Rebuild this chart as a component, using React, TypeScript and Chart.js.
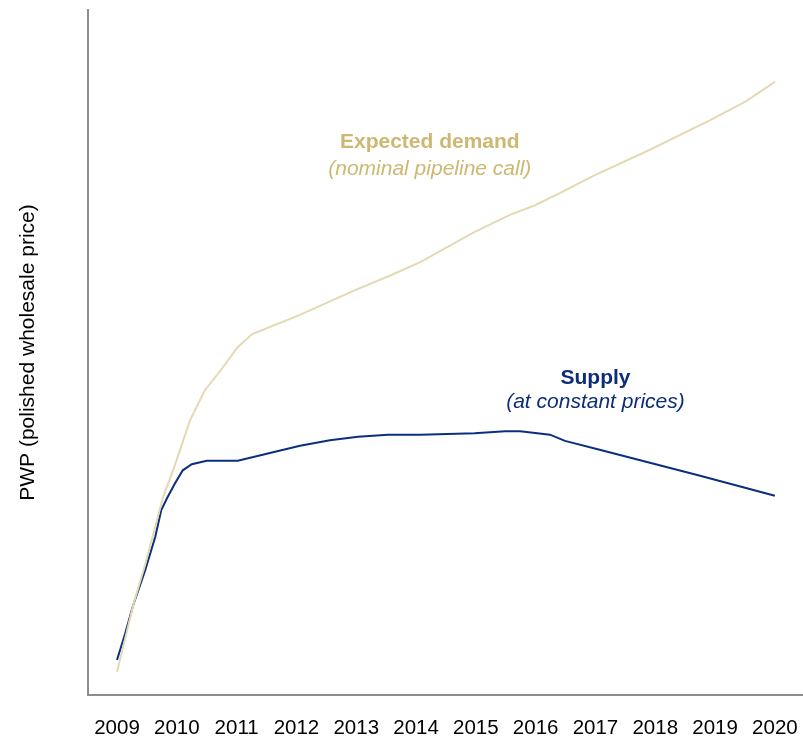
import React, { useEffect, useRef } from "react";
import { Chart, registerables } from "chart.js";

Chart.register(...registerables);

const years = [2009, 2010, 2011, 2012, 2013, 2014, 2015, 2016, 2017, 2018, 2019, 2020];

const demandX = [2009.0, 2009.13, 2009.27, 2009.47, 2009.77, 2009.97, 2010.22, 2010.47, 2010.76, 2011.01, 2011.26, 2012.06, 2012.98, 2013.56, 2014.07, 2014.98, 2015.57, 2015.99, 2016.41, 2016.99, 2017.91, 2018.91, 2019.5, 2020.0];
const demandY = [3.4, 8.0, 13.1, 19.0, 28.9, 33.6, 40.1, 44.5, 47.7, 50.7, 52.7, 55.5, 59.1, 61.2, 63.2, 67.6, 70.1, 71.5, 73.3, 75.9, 79.6, 83.9, 86.6, 89.5];

const supplyX = [2009.0, 2009.13, 2009.27, 2009.47, 2009.64, 2009.74, 2009.84, 2009.97, 2010.1, 2010.25, 2010.5, 2011.02, 2012.06, 2012.56, 2013.03, 2013.53, 2014.07, 2014.98, 2015.49, 2015.74, 2016.24, 2016.49, 2017.07, 2017.91, 2018.75, 2020.0];
const supplyY = [5.1, 8.8, 13.1, 18.2, 23.1, 27.0, 28.8, 30.9, 32.8, 33.7, 34.2, 34.2, 36.4, 37.2, 37.7, 38.0, 38.0, 38.2, 38.5, 38.5, 38.0, 37.1, 35.8, 33.9, 32.0, 29.1];

const yTitle = "PWP (polished wholesale price)";
const demandLabel = ["Expected demand", "(nominal pipeline call)"];
const supplyLabel = ["Supply", "(at constant prices)"];

const DEMAND_LINE = "#E4D9B2";
const DEMAND_TEXT = "#CDB871";
const SUPPLY_LINE = "#0B2F7E";
const SUPPLY_TEXT = "#0B2D7A";
const AXIS = "#8C8C8C";
const FONT = "Arial, 'Liberation Sans', sans-serif";

const labelsPlugin = {
  id: "seriesLabels",
  afterDatasetsDraw(chart: any) {
    const { ctx, scales } = chart;
    const x = scales.x;
    const y = scales.y;
    const draw = (lines: string[], xv: number, yv1: number, yv2: number, color: string) => {
      ctx.save();
      ctx.fillStyle = color;
      ctx.textAlign = "center";
      ctx.textBaseline = "alphabetic";
      ctx.font = `bold 21px ${FONT}`;
      ctx.fillText(lines[0], x.getPixelForValue(xv), y.getPixelForValue(yv1));
      ctx.font = `italic 21px ${FONT}`;
      ctx.fillText(lines[1], x.getPixelForValue(xv), y.getPixelForValue(yv2));
      ctx.restore();
    };
    draw(demandLabel, 2014.23, 79.85, 75.9, DEMAND_TEXT);
    draw(supplyLabel, 2017.0, 45.4, 41.9, SUPPLY_TEXT);
  },
};

export default function App() {
  const ref = useRef<HTMLCanvasElement | null>(null);
  useEffect(() => {
    if (!ref.current) return;
    const chart = new Chart(ref.current, {
      type: "line",
      data: {
        datasets: [
          {
            label: "Expected demand",
            data: demandX.map((x, i) => ({ x, y: demandY[i] })),
            borderColor: DEMAND_LINE,
            borderWidth: 2,
            pointRadius: 0,
            tension: 0,
            fill: false,
          },
          {
            label: "Supply",
            data: supplyX.map((x, i) => ({ x, y: supplyY[i] })),
            borderColor: SUPPLY_LINE,
            borderWidth: 2,
            pointRadius: 0,
            tension: 0,
            fill: false,
          },
        ],
      },
      options: {
        responsive: false,
        animation: false,
        layout: { padding: { top: 10, left: 0, right: 0, bottom: 0 } },
        plugins: { legend: { display: false }, tooltip: { enabled: false } },
        scales: {
          x: {
            type: "linear",
            min: 2008.515,
            max: 2020.47,
            afterBuildTicks: (scale: any) => {
              scale.ticks = years.map((v) => ({ value: v }));
            },
            afterFit: (scale: any) => {
              scale.height = 44;
              scale.paddingLeft = 0;
              scale.paddingRight = 0;
            },
            ticks: {
              autoSkip: false,
              maxRotation: 0,
              padding: 21,
              color: "#000",
              font: { family: FONT, size: 20.5 },
              callback: (v: any) => String(v),
            },
            grid: { display: false, drawTicks: false },
            border: { display: true, color: AXIS, width: 2 },
          },
          y: {
            min: 0,
            max: 100,
            afterFit: (scale: any) => {
              scale.width = 88;
              scale.paddingTop = 0;
              scale.paddingBottom = 0;
            },
            ticks: { display: false },
            grid: { display: false, drawTicks: false },
            border: { display: true, color: AXIS, width: 2 },
            title: {
              display: true,
              text: yTitle,
              color: "#000",
              font: { family: FONT, size: 21 },
              padding: { top: 16, bottom: 0 },
            },
          },
        },
      },
      plugins: [labelsPlugin],
    });
    return () => chart.destroy();
  }, []);
  return (
    <div style={{ position: "absolute", top: 0, left: 0, width: 803, height: 739, background: "#fff" }}>
      <canvas ref={ref} width={803} height={739} style={{ display: "block" }} />
    </div>
  );
}
